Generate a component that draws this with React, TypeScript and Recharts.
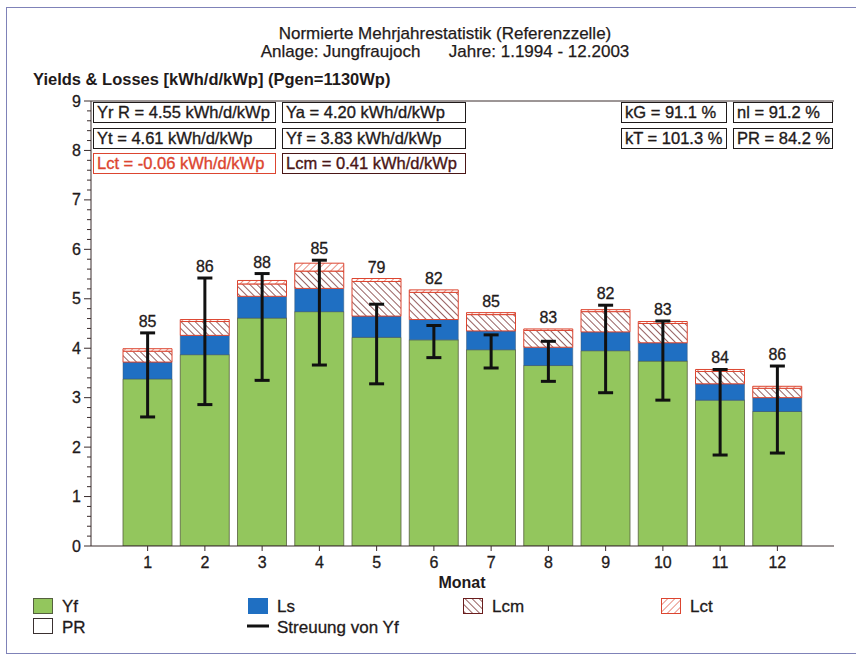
import { ComposedChart, Bar, Line, XAxis, YAxis, ErrorBar, LabelList, ReferenceLine } from 'recharts';

const MONTHS = ['1', '2', '3', '4', '5', '6', '7', '8', '9', '10', '11', '12'];
const YF = [3.38, 3.87, 4.61, 4.74, 4.22, 4.17, 3.97, 3.65, 3.95, 3.74, 2.95, 2.72];
const LS = [0.34, 0.39, 0.44, 0.47, 0.43, 0.41, 0.38, 0.37, 0.38, 0.37, 0.33, 0.28];
const LCM = [0.22, 0.28, 0.25, 0.35, 0.7, 0.55, 0.33, 0.34, 0.41, 0.39, 0.25, 0.19];
const LCT = [0.05, 0.04, 0.07, 0.16, 0.06, 0.05, 0.04, 0.03, 0.04, 0.04, 0.04, 0.04];
const ERR_HIGH = [4.31, 5.42, 5.51, 5.78, 4.89, 4.46, 4.27, 4.14, 4.87, 4.55, 3.57, 3.64];
const ERR_LOW = [2.61, 2.86, 3.35, 3.66, 3.28, 3.81, 3.6, 3.33, 3.1, 2.95, 1.84, 1.88];
const PR = [85, 86, 88, 85, 79, 82, 85, 83, 82, 83, 84, 86];

// minor ticks every 0.2, labels only on whole numbers
const Y_TICKS = Array.from({ length: 46 }, (_, i) => i / 5);

const data = MONTHS.map((month, i) => {
  const top = YF[i] + LS[i] + LCM[i] + LCT[i];
  return {
    month,
    yf: YF[i],
    ls: LS[i],
    lcm: LCM[i],
    lct: LCT[i],
    errHigh: ERR_HIGH[i],
    errRange: [ERR_HIGH[i] - ERR_LOW[i], 0],
    labelAt: Math.max(top, ERR_HIGH[i]),
    pr: PR[i],
  };
});

const FONT = '"Liberation Sans", Arial, sans-serif';
const INK = '#1f1a1a';
const AXIS = '#3a2c2c';
const GREEN = '#93c65d';
const BLUE = '#1f6fc2';
const RED = '#dc4530';
const MAROON = '#6a1d1d';
const HEAVY = '0.35px';

const YTick = (props: any) => {
  const { x, y, payload } = props;
  const v = payload.value;
  const major = Math.abs(v - Math.round(v)) < 1e-6;
  return (
    <g>
      <line x1={x - (major ? 7 : 4)} x2={x} y1={y} y2={y} stroke={AXIS} strokeWidth={1} />
      {major && (
        <text x={x - 10} y={y} dy={5.5} textAnchor="end" fontSize={16} fontFamily={FONT} fill={INK} stroke={INK} strokeWidth={0.3}>
          {Math.round(v)}
        </text>
      )}
    </g>
  );
};

const Patterns = ({ prefix }: { prefix: string }) => (
  <defs>
    <pattern id={`${prefix}lcm`} width="5" height="5" patternUnits="userSpaceOnUse" patternTransform="rotate(-45)">
      <rect width="5" height="5" fill="#fff" />
      <line x1="0" y1="0" x2="0" y2="5" stroke={MAROON} strokeWidth="1.4" />
    </pattern>
    <pattern id={`${prefix}lct`} width="5" height="5" patternUnits="userSpaceOnUse" patternTransform="rotate(45)">
      <rect width="5" height="5" fill="#fff" />
      <line x1="0" y1="0" x2="0" y2="5" stroke={RED} strokeWidth="1.2" />
    </pattern>
  </defs>
);

const boxStyle = (left: number, top: number, width: number, color: string): React.CSSProperties => ({
  position: 'absolute',
  left,
  top,
  width,
  height: 19,
  border: `1.5px solid ${color}`,
  color,
  background: '#fff',
  fontSize: 16.5,
  lineHeight: '19px',
  paddingLeft: 3,
  boxSizing: 'content-box',
  whiteSpace: 'nowrap',
  WebkitTextStroke: HEAVY,
});

const INFO = [
  { text: 'Yr R = 4.55 kWh/d/kWp', left: 93, top: 102, width: 178, color: INK },
  { text: 'Ya = 4.20 kWh/d/kWp', left: 282, top: 102, width: 179, color: INK },
  { text: 'Yt = 4.61 kWh/d/kWp', left: 93, top: 128, width: 178, color: INK },
  { text: 'Yf = 3.83 kWh/d/kWp', left: 282, top: 128, width: 179, color: INK },
  { text: 'Lct = -0.06 kWh/d/kWp', left: 93, top: 153, width: 178, color: RED },
  { text: 'Lcm = 0.41 kWh/d/kWp', left: 282, top: 153, width: 179, color: '#4a1616' },
  { text: 'kG = 91.1 %', left: 621, top: 102, width: 101, color: INK },
  { text: 'nl = 91.2 %', left: 733, top: 102, width: 95, color: INK },
  { text: 'kT = 101.3 %', left: 621, top: 128, width: 101, color: INK },
  { text: 'PR = 84.2 %', left: 733, top: 128, width: 95, color: INK },
];

const LegendOverlay = () => (
  <svg width={856} height={657} style={{ position: 'absolute', left: 0, top: 0, pointerEvents: 'none' }}>
    <Patterns prefix="lg-" />
    <g fontFamily={FONT} fontSize={17} fill={INK} stroke={INK} strokeWidth={0.3}>
      <rect x={33.5} y={598.5} width={19} height={15} fill={GREEN} stroke="#55603f" strokeWidth={1} />
      <text x={62} y={612}>Yf</text>
      <rect x={248} y={598} width={20} height={16} fill={BLUE} stroke="none" />
      <text x={277} y={612}>Ls</text>
      <rect x={463.5} y={598.5} width={19} height={15} fill="url(#lg-lcm)" stroke={MAROON} strokeWidth={1} />
      <text x={492} y={612}>Lcm</text>
      <rect x={661.5} y={598.5} width={19} height={15} fill="url(#lg-lct)" stroke={RED} strokeWidth={1} />
      <text x={690} y={612}>Lct</text>
      <rect x={33.5} y={618.5} width={19} height={15} fill="#fff" stroke="#3a3030" strokeWidth={1} />
      <text x={62} y={633}>PR</text>
      <line x1={247} x2={269} y1={626} y2={626} stroke="#111" strokeWidth={3} />
      <text x={277} y={633}>Streuung von Yf</text>
    </g>
  </svg>
);

export default function App() {
  return (
    <div
      style={{
        position: 'absolute',
        left: 0,
        top: 0,
        width: 856,
        height: 657,
        background: '#fff',
        fontFamily: FONT,
        color: INK,
        overflow: 'hidden',
      }}
    >
      <div
        style={{
          position: 'absolute',
          left: 6,
          top: 7,
          width: 870,
          height: 645,
          borderLeft: '1.5px solid #7f82b8',
          borderTop: '1.5px solid #7f82b8',
          borderBottom: '1.5px solid #7f82b8',
        }}
      />
      <ComposedChart
        width={856}
        height={657}
        data={data}
        margin={{ top: 101, right: 22, bottom: 81, left: 51 }}
        barSize={49}
        style={{ position: 'absolute', left: 0, top: 0 }}
      >
        <Patterns prefix="" />
        <XAxis
          dataKey="month"
          padding={{ left: 28, right: 28 }}
          height={30}
          tickSize={5}
          tickMargin={6}
          stroke={AXIS}
          tick={{ fontSize: 16, fontFamily: FONT, fill: INK, stroke: INK, strokeWidth: 0.3 }}
          interval={0}
        />
        <YAxis
          domain={[0, 9]}
          ticks={Y_TICKS}
          interval={0}
          width={40}
          tickSize={0}
          tickMargin={0}
          tickLine={false}
          stroke={AXIS}
          tick={<YTick />}
          allowDataOverflow
        />
        <YAxis yAxisId="right" orientation="right" domain={[0, 9]} width={0} tick={false} tickLine={false} stroke={AXIS} />
        <ReferenceLine y={9} stroke={AXIS} strokeWidth={1} />
        <Bar dataKey="yf" stackId="a" fill={GREEN} stroke="#55603f" strokeWidth={0.8} isAnimationActive={false} />
        <Bar dataKey="ls" stackId="a" fill={BLUE} stroke="#3a5878" strokeWidth={0.5} isAnimationActive={false} />
        <Bar dataKey="lcm" stackId="a" fill="url(#lcm)" stroke={RED} strokeWidth={1} isAnimationActive={false} />
        <Bar dataKey="lct" stackId="a" fill="url(#lct)" stroke={RED} strokeWidth={1} isAnimationActive={false} />
        <Line dataKey="errHigh" stroke="none" dot={false} activeDot={false} isAnimationActive={false} legendType="none">
          <ErrorBar dataKey="errRange" direction="y" width={7.5} strokeWidth={3} stroke="#111" />
        </Line>
        <Line dataKey="labelAt" stroke="none" dot={false} activeDot={false} isAnimationActive={false} legendType="none">
          <LabelList dataKey="pr" position="top" offset={6} fontSize={16} fontFamily={FONT} fill={INK} stroke={INK} strokeWidth={0.3} />
        </Line>
      </ComposedChart>

      <div
        style={{
          position: 'absolute',
          left: 0,
          width: 890,
          top: 25,
          textAlign: 'center',
          fontSize: 17,
          lineHeight: '18px',
          WebkitTextStroke: '0.25px',
        }}
      >
        Normierte Mehrjahrestatistik (Referenzzelle)
        <br />
        Anlage: Jungfraujoch&nbsp;&nbsp;&nbsp;&nbsp;&nbsp;&nbsp;Jahre: 1.1994 - 12.2003
      </div>
      <div style={{ position: 'absolute', left: 33, top: 70, fontSize: 16.5, fontWeight: 'bold', whiteSpace: 'nowrap' }}>
        Yields &amp; Losses [kWh/d/kWp] (Pgen=1130Wp)
      </div>
      {INFO.map((b) => (
        <div key={b.text} style={boxStyle(b.left, b.top, b.width, b.color)}>
          {b.text}
        </div>
      ))}
      <div style={{ position: 'absolute', left: 412, width: 100, top: 574, textAlign: 'center', fontSize: 16, fontWeight: 'bold' }}>
        Monat
      </div>
      <LegendOverlay />
    </div>
  );
}
